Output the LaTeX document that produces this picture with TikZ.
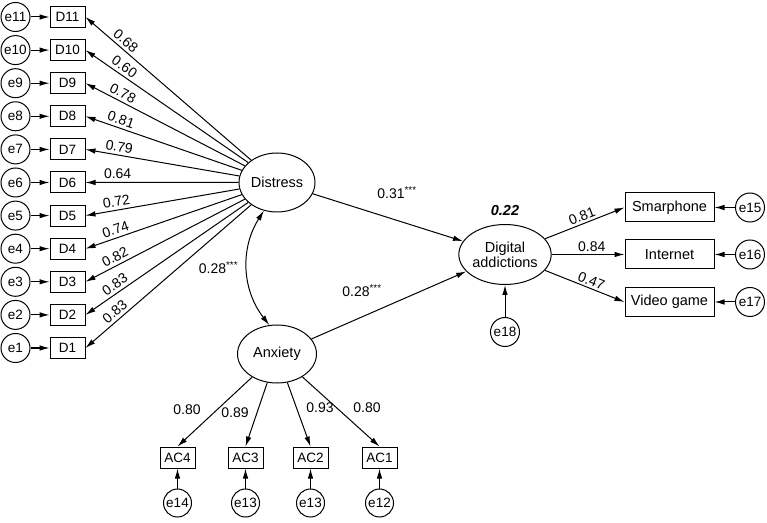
\documentclass[tikz,border=0pt]{standalone}
\usepackage{fontspec}
\setmainfont{Liberation Sans}
\usetikzlibrary{arrows.meta,shapes.geometric,positioning}

\tikzset{
  big/.style={font=\fontsize{14.5}{15}\selectfont},
  small/.style={font=\fontsize{13.5}{15}\selectfont},
  err/.style={circle, draw, line width=1pt, minimum size=29pt, inner sep=0pt, small},
  ind/.style={rectangle, draw, line width=1pt, minimum width=35pt, minimum height=21pt, inner sep=0pt, small},
  outcome/.style={rectangle, draw, line width=1pt, minimum width=89pt, minimum height=29pt, inner sep=0pt, big},
  factor/.style={ellipse, draw, line width=1pt, minimum width=76pt, minimum height=58pt, inner sep=0pt, big},
  link/.style={-{Latex[length=10pt,width=5.5pt]}, line width=1pt},
  covar/.style={{Latex[length=10pt,width=5.5pt]}-{Latex[length=10pt,width=5.5pt]}, line width=1pt},
  coef/.style={font=\fontsize{14}{15}\selectfont, inner sep=2pt},
}

\begin{document}
\begin{tikzpicture}[x=1pt,y=1pt]
	\useasboundingbox (0,0) rectangle (767,522);
	
	% latent variables
	\node[factor, minimum width=76pt, minimum height=59pt] (dis) at (277,339.5) {Distress};
	\node[factor, minimum width=79pt] (anx) at (277,168) {Anxiety};
	\node[factor, minimum width=86pt, minimum height=60pt, align=center] (dig) at (505,267.5) {Digital\\addictions};
	\node[coef, font=\fontsize{14.5}{15}\selectfont\bfseries\itshape] (rsq) at (505,311) {0.22};
	
	% distress items
	\foreach \i/\w in {1/0.83,2/0.83,3/0.82,4/0.74,5/0.72,6/0.64,7/0.79,8/0.81,9/0.78,10/0.60,11/0.68} {
		\node[err] (e\i) at (15.5,{174+(\i-1)*33.1}) {e\i};
		\node[ind] (d\i) at (67.5,{174+(\i-1)*33.1}) {D\i};
		\draw[link] (e\i) -- (d\i);
		\draw[link] (dis) -- (d\i.east) node[coef, sloped, above, inner sep=3pt, pos=0.79] (w\i) {\w};
	}
	
	% anxiety items
	\foreach \i/\x/\t in {4/177.5/e14,3/245.5/e13,2/310.5/e13,1/379.5/e12} {
		\node[ind] (ac\i) at (\x,64.5) {AC\i};
		\node[err, minimum size=28pt] (u\i) at (\x,19) {\t};
		\draw[link] (u\i) -- (ac\i);
		\draw[link] (anx) -- (ac\i.north);
	}
	\node[coef] (a4) at (187,112) {0.80};
	\node[coef] (a3) at (235,109) {0.89};
	\node[coef] (a2) at (320,114) {0.93};
	\node[coef] (a1) at (367,114) {0.80};
	
	% outcomes
	\node[outcome] (sp) at (669.5,314.5) {Smarphone};
	\node[outcome] (in) at (669.5,267.5) {Internet};
	\node[outcome] (vg) at (669.5,220) {Video game};
	\node[err] (e15) at (750,314.5) {e15};
	\node[err] (e16) at (750,267.5) {e16};
	\node[err] (e17) at (750,220) {e17};
	\draw[link] (e15) -- (sp);
	\draw[link] (e16) -- (in);
	\draw[link] (e17) -- (vg);
	\draw[link] (dig) -- (sp.west) node[coef, sloped, above, pos=0.5] (o1) {0.81};
	\draw[link] (dig) -- (in.west) node[coef, above, pos=0.55] (o2) {0.84};
	\draw[link] (dig) -- (vg.west) node[coef, sloped, above, pos=0.55] (o3) {0.47};
	\node[err] (e18) at (505,190) {e18};
	\draw[link] (e18) -- (dig);
	
	% structural part
	\draw[link] (dis) -- (dig);
	\draw[link] (anx) -- (dig);
	\node[coef] (b1) at (397,329) {0.31\textsuperscript{***}};
	\node[coef] (b2) at (362,231) {0.28\textsuperscript{***}};
	\draw[covar] (dis.245) to[bend right=35] (anx.105);
	\node[coef] (cv) at (218.5,254) {0.28\textsuperscript{***}};
\end{tikzpicture}
\end{document}
